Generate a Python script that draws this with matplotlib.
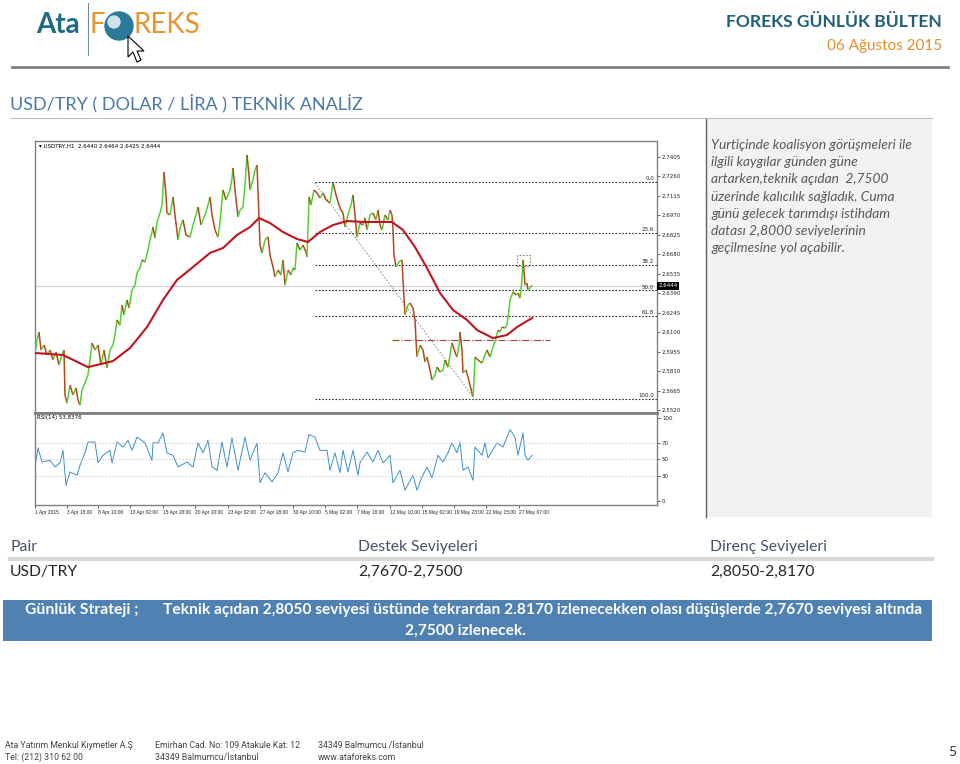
import numpy as np
import matplotlib
matplotlib.use('Agg')
import matplotlib.pyplot as plt
from matplotlib.collections import LineCollection
from matplotlib.patches import Rectangle, Circle, Polygon

W, H = 960, 764

# ── price series (bar index, close) ────────────────────────────────
price_idx = [0, 2, 4, 6, 9, 12, 15, 18, 21, 24, 27, 29, 30, 32, 35, 38, 41, 43, 45, 47,
             50, 53, 55, 57, 60, 63, 66, 69, 72, 75, 78, 80, 82, 85, 87, 89, 92, 94, 97, 100,
             102, 105, 107, 110, 113, 115, 117, 118, 120, 122, 125, 127, 129, 131, 132, 135, 138, 140, 143, 145,
             148, 151, 155, 158, 161, 163, 166, 168, 171, 173, 175, 177, 180, 183, 185, 188, 191, 195, 197, 198,
             200, 203, 205, 208, 210, 212, 214, 215, 218, 220, 222, 223, 224, 225, 227, 230, 233, 235, 238, 240,
             243, 246, 248, 250, 253, 256, 258, 260, 262, 265, 268, 271, 272, 273, 274, 276, 279, 282, 285, 288,
             291, 295, 298, 301, 304, 306, 308, 310, 313, 316, 318, 320, 322, 325, 328, 330, 332, 335, 338, 341,
             343, 345, 347, 350, 353, 355, 357, 358, 359, 361, 364, 367, 368, 370, 373, 375, 378, 380, 381, 382,
             385, 388, 390, 392, 395, 397, 400, 402, 405, 408, 410, 413, 415, 417, 420, 422, 424, 425, 427, 428,
             431, 433, 435, 438, 439, 440, 443, 447, 450, 452, 455, 457, 458, 461, 463, 465, 467, 470, 472, 474,
             475, 477, 478, 481, 483, 485, 487, 488, 489, 490, 492, 493, 495, 497]
price_close = [2.5945, 2.6042, 2.6101, 2.5967, 2.6004, 2.5930, 2.5967, 2.5893, 2.5952, 2.5855,
               2.5930, 2.5967, 2.5632, 2.5572, 2.5706, 2.5632, 2.5684, 2.5595, 2.5557, 2.5669,
               2.5721, 2.5781, 2.5893, 2.6019, 2.5967, 2.6004, 2.5855, 2.5967, 2.5833, 2.5967,
               2.6004, 2.6079, 2.6191, 2.6153, 2.6302, 2.6228, 2.6340, 2.6280, 2.6414, 2.6451,
               2.6541, 2.6578, 2.6638, 2.6623, 2.6712, 2.6787, 2.6846, 2.6883, 2.6801, 2.6921,
               2.6988, 2.7047, 2.7293, 2.7122, 2.6988, 2.6973, 2.7107, 2.6973, 2.6787, 2.6876,
               2.6936, 2.6824, 2.6809, 2.6898, 2.6973, 2.7032, 2.6898, 2.6936, 2.6995, 2.7047,
               2.7107, 2.6973, 2.6861, 2.6809, 2.6921, 2.7159, 2.7085, 2.7159, 2.7248, 2.7323,
               2.7159, 2.6958, 2.7010, 2.7032, 2.7196, 2.7420, 2.7271, 2.7159, 2.7234, 2.7308,
               2.7345, 2.7159, 2.6958, 2.6749, 2.6690, 2.6787, 2.6809, 2.6675, 2.6585, 2.6511,
               2.6563, 2.6526, 2.6638, 2.6451, 2.6563, 2.6526, 2.6578, 2.6563, 2.6764, 2.6712,
               2.6749, 2.6697, 2.6660, 2.6861, 2.7107, 2.7047, 2.7159, 2.7137, 2.7099, 2.7137,
               2.7085, 2.7062, 2.7211, 2.7122, 2.7047, 2.7010, 2.6988, 2.6883, 2.6973, 2.7047,
               2.7122, 2.6973, 2.6809, 2.6913, 2.6898, 2.6950, 2.6861, 2.6973, 2.6988, 2.6936,
               2.7010, 2.6898, 2.6861, 2.6973, 2.6936, 2.7010, 2.6973, 2.6861, 2.6675, 2.6585,
               2.6623, 2.6638, 2.6489, 2.6228, 2.6302, 2.6317, 2.6280, 2.6191, 2.6042, 2.5915,
               2.6004, 2.5967, 2.5878, 2.5915, 2.5818, 2.5744, 2.5781, 2.5840, 2.5803, 2.5818,
               2.5893, 2.5840, 2.5930, 2.6019, 2.5952, 2.5915, 2.6004, 2.6101, 2.5967, 2.5796,
               2.5818, 2.5766, 2.5706, 2.5617, 2.5744, 2.5915, 2.5893, 2.5870, 2.5930, 2.5967,
               2.5915, 2.5967, 2.5989, 2.6056, 2.6116, 2.6101, 2.6138, 2.6131, 2.6153, 2.6265,
               2.6340, 2.6377, 2.6399, 2.6377, 2.6392, 2.6354, 2.6489, 2.6638, 2.6563, 2.6451,
               2.6466, 2.6414, 2.6429, 2.6451]

# moving average (red)
ma_idx = [0, 28, 53, 78, 95, 112, 128, 142, 158, 175, 188, 202, 215, 224, 235, 248, 262, 273,
          285, 298, 312, 328, 357, 368, 380, 392, 405, 418, 432, 442, 458, 472, 482, 497]
ma_val = [2.5945, 2.5930, 2.5840, 2.5885, 2.5982, 2.6138, 2.6340, 2.6489, 2.6585, 2.6690,
          2.6727, 2.6824, 2.6883, 2.6950, 2.6913, 2.6846, 2.6794, 2.6772, 2.6846, 2.6898,
          2.6928, 2.6921, 2.6921, 2.6861, 2.6734, 2.6578, 2.6392, 2.6265, 2.6191, 2.6116,
          2.6056, 2.6079, 2.6138, 2.6205]

# fibonacci retracement
fib_names = ['0.0', '23.6', '38.2', '50.0', '61.8', '100.0']
fib_levels = [2.7219, 2.6837, 2.6601, 2.6411, 2.6220, 2.5602]
fib_start = 280
fib_diag_idx = [280, 438]
fib_diag_val = [2.7211, 2.5617]
pivot_level = 2.6042
pivot_span = [357, 515]
box_idx = [482, 495]
box_val = [2.6593, 2.6675]
bid = 2.6444

price_ticks = [2.7405, 2.7260, 2.7115, 2.6970, 2.6825, 2.6680, 2.6535, 2.6390,
               2.6245, 2.6100, 2.5955, 2.5810, 2.5665, 2.5520]

# RSI(14)
rsi_idx = [0, 3, 7, 15, 20, 25, 28, 31, 35, 42, 45, 50, 53, 60, 63, 68, 75, 77, 82, 88,
           93, 97, 102, 110, 117, 118, 123, 128, 132, 138, 143, 152, 158, 163, 168, 173, 177, 182, 187, 192,
           197, 203, 210, 215, 222, 225, 230, 237, 243, 248, 253, 258, 263, 270, 274, 280, 285, 292, 295, 300,
           305, 308, 313, 318, 323, 325, 332, 338, 343, 348, 355, 358, 365, 370, 378, 382, 387, 392, 397, 403,
           408, 413, 417, 422, 425, 428, 433, 438, 440, 447, 450, 453, 462, 468, 475, 480, 483, 488, 490, 493, 497]
rsi_val = [41, 64, 47, 49, 41, 46, 61, 19, 35, 31, 43, 58, 71, 71, 46, 55, 61, 46, 71, 65,
           73, 61, 77, 70, 49, 70, 70, 82, 58, 55, 41, 47, 41, 70, 58, 73, 41, 37, 71, 41,
           76, 37, 77, 49, 70, 22, 34, 23, 34, 58, 35, 58, 61, 59, 80, 77, 61, 61, 37, 58,
           34, 61, 35, 61, 31, 46, 59, 47, 61, 46, 55, 22, 37, 13, 31, 13, 29, 41, 28, 55,
           47, 58, 70, 58, 71, 37, 41, 25, 65, 55, 70, 52, 70, 65, 86, 77, 55, 82, 55, 49, 55]

time_ticks = [0, 32, 63, 95, 128, 160, 193, 225, 258, 290, 322, 355, 387, 419, 451, 484]
time_labels = ['1 Apr 2015', '3 Apr 18:00', '8 Apr 10:00', '13 Apr 02:00', '15 Apr 18:00',
               '20 Apr 10:00', '23 Apr 02:00', '27 Apr 18:00', '30 Apr 10:00', '5 May 02:00',
               '7 May 18:00', '12 May 10:00', '15 May 02:00', '19 May 23:00', '22 May 15:00',
               '27 May 07:00']

comment_lines = ['Yurtiçinde koalisyon görüşmeleri ile', 'ilgili kaygılar günden güne',
                 'artarken,teknik açıdan  2,7500', 'üzerinde kalıcılık sağladık. Cuma',
                 'günü gelecek tarımdışı istihdam', 'datası 2,8000 seviyelerinin',
                 'geçilmesine yol açabilir.']
table_header = ['Pair', 'Destek Seviyeleri', 'Direnç Seviyeleri']
table_row = ['USD/TRY', '2,7670-2,7500', '2,8050-2,8170']

plt.rcParams['font.family'] = ['Lato', 'DejaVu Sans']
SMALL = ['Liberation Sans', 'DejaVu Sans']

fig = plt.figure(figsize=(W / 100, H / 100), dpi=100)
fig.patch.set_facecolor('white')

def rect(x0, y0, x1, y1):
    return [x0 / W, 1 - y1 / H, (x1 - x0) / W, (y1 - y0) / H]

# ── page canvas in pixel coords ─────────────────────────────────────
pg = fig.add_axes([0, 0, 1, 1])
pg.set_xlim(0, W); pg.set_ylim(H, 0); pg.axis('off')

# logo
pg.text(36, 25, 'Ata', color='#1d6a85', fontsize=20, fontweight='bold', va='center')
pg.plot([88, 88], [3, 55], color='#6f8f9a', lw=0.8)
pg.text(90, 25, 'F', color='#e8952f', fontsize=20, va='center')
pg.add_patch(Circle((119, 26), 14, color='#2b7a99'))
pg.add_patch(Circle((114, 22), 6, color='#cfe3ea'))
pg.text(134, 25, 'REKS', color='#e8952f', fontsize=20, va='center')
pg.add_patch(Polygon([(128, 36), (128, 57), (133, 52), (137, 62), (141, 60), (137, 51), (144, 51)],
                     closed=True, facecolor='white', edgecolor='black', lw=0.8))

pg.text(942, 22, 'FOREKS GÜNLÜK BÜLTEN', color='#1f5f7c', fontsize=12.6,
        fontweight='bold', ha='right', va='center')
pg.text(942, 46, '06 Ağustos 2015', color='#e48f2a', fontsize=11, ha='right', va='center')
pg.plot([12, 948], [67, 67], color='#808080', lw=2)

pg.text(10, 103, 'USD/TRY ( DOLAR / LİRA ) TEKNİK ANALİZ', color='#4a78a8',
        fontsize=13, va='center')
pg.plot([10, 932], [118, 118], color='#bfbfbf', lw=0.8)

# comment box
pg.add_patch(Rectangle((706, 119), 226, 398, facecolor='#f2f2f2', edgecolor='none'))
pg.plot([706, 706], [119, 517], color='#606060', lw=1)
for i, line in enumerate(comment_lines):
    pg.text(711, 145 + i * 17.2, line, color='#595959', fontsize=9.9,
            style='italic', va='center')

# levels table
for x, s in zip([10, 358, 710], table_header):
    pg.text(x, 547, s, color='#44546a', fontsize=11.3, va='center')
pg.plot([10, 932], [558.5, 558.5], color='#d9d9d9', lw=3)
for x, s in zip([10, 358, 710], table_row):
    pg.text(x, 572, s, color='#262626', fontsize=11.3, va='center')

pg.add_patch(Rectangle((3, 600), 929, 41, facecolor='#4f81b3', edgecolor='none'))
pg.text(25, 610, 'Günlük Strateji ;', color='white', fontsize=11.3, fontweight='bold', va='center')
pg.text(163, 610, 'Teknik açıdan 2,8050 seviyesi üstünde tekrardan 2.8170 izlenecekken '
        'olası düşüşlerde 2,7670 seviyesi altında', color='white', fontsize=11.2,
        fontweight='bold', va='center')
pg.text(465, 631, '2,7500 izlenecek.', color='white', fontsize=11.2, fontweight='bold',
        ha='center', va='center')

# footer
foot = dict(color='#444444', fontsize=6.3, va='center', family=['Roboto', 'DejaVu Sans'])
pg.text(5, 746, 'Ata Yatırım Menkul Kıymetler A.Ş', **foot)
pg.text(5, 757, 'Tel: (212) 310 62 00', **foot)
pg.text(155, 746, 'Emirhan Cad. No: 109 Atakule Kat: 12', **foot)
pg.text(155, 757, '34349 Balmumcu/İstanbul', **foot)
pg.text(318, 746, '34349 Balmumcu /İstanbul', **foot)
pg.text(318, 757, 'www.ataforeks.com', **foot)
pg.text(952, 752, '5', color='#333333', fontsize=10, ha='center', va='center')

# ── price panel ─────────────────────────────────────────────────────
ax = fig.add_axes(rect(35, 141, 657, 413))
ax.set_xlim(0, 622)
ax.set_ylim(2.5498, 2.7524)

px = np.array(price_idx, dtype=float)
pc = np.array(price_close)
segs = np.stack([np.column_stack([px[:-1], pc[:-1]]), np.column_stack([px[1:], pc[1:]])], axis=1)
cols = ['#4fd12f' if b > a else '#b8461c' for a, b in zip(pc[:-1], pc[1:])]
ax.add_collection(LineCollection(segs, colors=cols, linewidths=1.1, zorder=3))

ax.plot(ma_idx, ma_val, color='#c0141e', lw=1.5, zorder=4)

for name, lev in zip(fib_names, fib_levels):
    ax.plot([fib_start, 622], [lev, lev], color='#303030', lw=0.8, ls=(0, (1.5, 1.5)), zorder=2)
    ax.text(619, lev + 0.0006, name, fontsize=4, ha='right', va='bottom', color='#202020',
            family='DejaVu Sans')
ax.plot(fib_diag_idx, fib_diag_val, color='#9a9a9a', lw=0.8, ls=(0, (1.5, 1.5)), zorder=2)
ax.plot(pivot_span, [pivot_level, pivot_level], color='#b04030', lw=0.8, ls='-.', zorder=2)
ax.add_patch(Rectangle((box_idx[0], box_val[0]), box_idx[1] - box_idx[0], box_val[1] - box_val[0],
                       fill=False, edgecolor='#a08060', lw=0.8, ls=(0, (1.5, 1.5)), zorder=2))
ax.axhline(bid, color='#d0d0d0', lw=0.8, zorder=1)

ax.text(4, 2.7485, '▾ USDTRY,H1  2.6440 2.6464 2.6425 2.6444', fontsize=4, va='center',
        family='DejaVu Sans')

ax.yaxis.tick_right()
ax.set_yticks(price_ticks)
ax.set_yticklabels([f'{v:.4f}' for v in price_ticks], fontsize=4, family='DejaVu Sans')
ax.tick_params(axis='y', length=2, width=0.5, pad=1.5, colors='#202020')
ax.set_xticks([])
ax.text(623.5, bid, '2.6444', fontsize=4, color='white', va='center', ha='left',
        family='DejaVu Sans', bbox=dict(boxstyle='square,pad=0.2', fc='black', ec='none'))
for s in ax.spines.values():
    s.set_color('#808080'); s.set_linewidth(1)
ax.spines['bottom'].set_linewidth(2)

# ── RSI panel ───────────────────────────────────────────────────────
rx = fig.add_axes(rect(35, 413, 657, 505))
rx.set_xlim(0, 622)
rx.set_ylim(-4.8, 106)
rx.plot(rsi_idx, rsi_val, color='#3a8fc9', lw=0.7)
for lev in [30, 50, 70]:
    rx.axhline(lev, color='#c8c8c8', lw=0.6, ls=(0, (2, 2)))
rx.text(2, 101, 'RSI(14) 53.8376', fontsize=4, va='center', family='DejaVu Sans')
rx.yaxis.tick_right()
rx.set_yticks([0, 30, 50, 70, 100])
rx.set_yticklabels(['0', '30', '50', '70', '100'], fontsize=4, family='DejaVu Sans')
rx.set_xticks(time_ticks)
rx.set_xticklabels(time_labels, fontsize=3.5, ha='left', family=SMALL)
rx.tick_params(length=2, width=0.5, pad=1.5, colors='#202020')
for s in rx.spines.values():
    s.set_color('#808080'); s.set_linewidth(1)
rx.spines['top'].set_linewidth(2)

fig.savefig('out.png', dpi=100)
